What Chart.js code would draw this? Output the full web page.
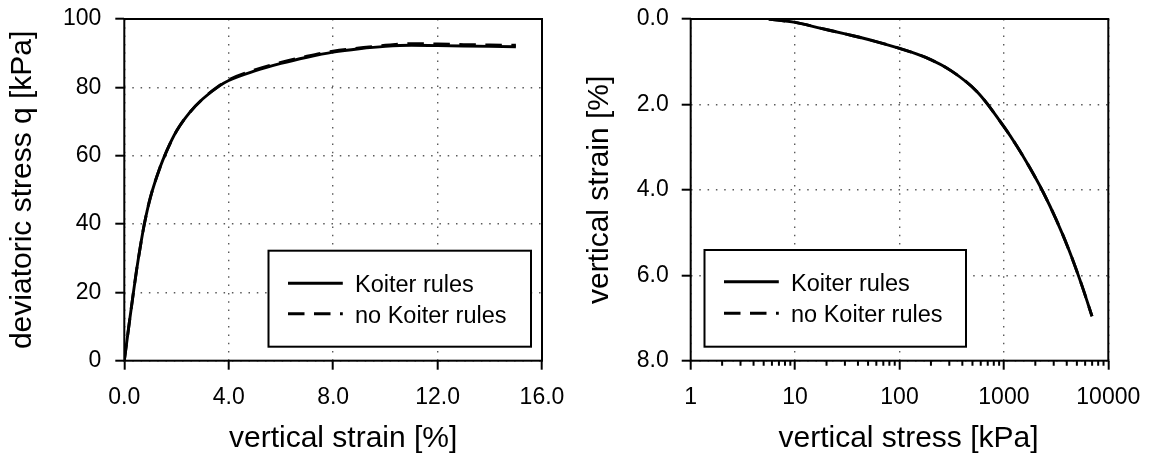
<!DOCTYPE html>
<html>
<head>
<meta charset="utf-8">
<script src="https://cdn.jsdelivr.net/npm/chart.js@4.4.1/dist/chart.umd.min.js"></script>
<style>
  html, body { margin: 0; padding: 0; background: #fff; }
  #wrap { position: relative; width: 1151px; height: 454px; }
  canvas { position: absolute; top: 0; }
  #triaxChart { left: 0; }
  #oedoChart { left: 575px; }
</style>
</head>
<body>
<div id="wrap">
  <canvas id="triaxChart" width="575" height="454"></canvas>
  <canvas id="oedoChart" width="576" height="454"></canvas>
</div>
<script>
// triaxial test: deviatoric stress q [kPa] against vertical strain [%]
const triaxStrain = [0, 0.2, 0.35, 0.47, 0.61, 0.76, 1.0, 1.37, 1.63, 2.0, 2.5, 3.0, 3.66, 4.0,
                     5.0, 6.0, 7.0, 8.0, 9.0, 10.0, 11.0, 12.0, 13.0, 14.0, 15.0];
const qKoiter = [0, 11.6, 20.0, 26.5, 33.2, 39.7, 47.8, 56.6, 61.5, 67.2, 72.6, 76.6, 80.5, 82.0,
                 84.8, 87.0, 88.8, 90.3, 91.3, 92.0, 92.3, 92.2, 92.1, 92.0, 91.9];
const qNoKoiter = [0, 11.6, 20.0, 26.5, 33.2, 39.7, 47.8, 56.6, 61.5, 67.2, 72.6, 76.6, 80.6, 82.2,
                   85.1, 87.3, 89.1, 90.6, 91.5, 92.3, 92.8, 92.7, 92.5, 92.4, 92.3];

// oedometer test: vertical strain [%] against vertical stress [kPa]
const oedoStress = [5.6, 10, 17.8, 31.6, 56.2, 100, 178, 316, 562, 1000,
                    1334, 1778, 2371, 3162, 4217, 5623, 6982];
const epsKoiter = [0, 0.08, 0.22, 0.36, 0.51, 0.69, 0.90, 1.22, 1.72, 2.52,
                   2.98, 3.49, 4.05, 4.69, 5.42, 6.26, 6.96];
const epsNoKoiter = [0, 0.08, 0.22, 0.36, 0.51, 0.69, 0.90, 1.22, 1.72, 2.52,
                     2.98, 3.49, 4.05, 4.69, 5.42, 6.26, 6.96];

const seriesLabels = ['Koiter rules', 'no Koiter rules'];

// axis ticks
const strainTicks = [0, 4, 8, 12, 16];
const qTicks = [0, 20, 40, 60, 80, 100];
const epsTicks = [0, 2, 4, 6, 8];
const stressTicks = [1, 10, 100, 1000, 10000];
const minorSteps = [2, 3, 4, 5, 6, 7, 8, 9];

const FONT = "'Liberation Sans', Arial, Helvetica, sans-serif";
Chart.defaults.font.family = FONT;
Chart.defaults.color = '#000';

const tickFont = { size: 23 };
const titleFont = { size: 30, lineHeight: 1 };
const gridColor = '#5a5a5a';
const dashed = [16.5, 9.5];

const points = (xs, ys) => xs.map((x, i) => ({ x: x, y: ys[i] }));

const lineStyle = {
  borderColor: '#000',
  borderWidth: 2.9,
  pointRadius: 0,
  fill: false,
  cubicInterpolationMode: 'monotone'
};

// move the axis title sideways a little
function nudgeTitle(scale, dx) {
  if (scale._nudged) return;
  const draw = scale.drawTitle;
  scale.drawTitle = function () {
    this.ctx.save();
    this.ctx.translate(dx, 0);
    draw.call(this);
    this.ctx.restore();
  };
  scale._nudged = true;
}

// framed legend inside the plot, plot border and minor log ticks
const boxedLegend = {
  id: 'boxedLegend',
  afterDatasetsDraw(chart, args, opts) {
    const { ctx, chartArea: a } = chart;
    const x0 = opts.left !== undefined ? a.left + opts.left : a.right - opts.right - opts.width;
    const y0 = a.bottom - opts.bottom - opts.height;
    ctx.save();
    ctx.fillStyle = '#fff';
    ctx.fillRect(x0, y0, opts.width, opts.height);
    ctx.lineWidth = 2;
    ctx.strokeStyle = '#000';
    ctx.strokeRect(x0, y0, opts.width, opts.height);
    ctx.font = '23.5px ' + FONT;
    ctx.textBaseline = 'alphabetic';
    chart.data.datasets.forEach((ds, i) => {
      const y = y0 + opts.rows[i];
      ctx.setLineDash(ds.borderDash || []);
      ctx.lineWidth = ds.borderWidth;
      ctx.beginPath();
      ctx.moveTo(x0 + 19.5, y);
      ctx.lineTo(x0 + 74.3, y);
      ctx.stroke();
      ctx.setLineDash([]);
      ctx.fillStyle = '#000';
      ctx.fillText(ds.label, x0 + 86.5, y + 9);
    });
    ctx.restore();
  },
  afterDraw(chart) {
    const { ctx, chartArea: a } = chart;
    ctx.save();
    ctx.strokeStyle = '#000';
    ctx.lineWidth = 2;
    const xs = chart.scales.x;
    if (xs.type === 'logarithmic') {
      ctx.beginPath();
      xs.ticks.forEach(t => {
        if (t.major) return;
        const px = xs.getPixelForValue(t.value);
        ctx.moveTo(px, a.bottom);
        ctx.lineTo(px, a.bottom + 5);
      });
      ctx.stroke();
    }
    ctx.strokeRect(a.left, a.top, a.right - a.left, a.bottom - a.top);
    ctx.restore();
  }
};

function axisBase(titleText, titlePadding) {
  return {
    ticks: { font: tickFont, color: '#000', padding: 14, autoSkip: false, maxRotation: 0 },
    grid: { color: gridColor, lineWidth: 1.4, tickLength: 9, tickColor: '#000', tickWidth: 2 },
    border: { display: false, dash: [1.5, 6.8] },
    title: { display: true, text: titleText, font: titleFont, color: '#000', padding: titlePadding }
  };
}

// fixed axis sizes so the plot area sits where it should
const fixX = h => s => { s.height = h; s.paddingLeft = 0; s.paddingRight = 0; };
const fixY = w => s => { s.width = w; s.paddingTop = 0; s.paddingBottom = 0; };

// left: triaxial compression
const triaxX = axisBase('vertical strain [%]', { top: 0, bottom: 0.5 });
Object.assign(triaxX, {
  type: 'linear', min: 0, max: 16,
  afterBuildTicks: s => { s.ticks = strainTicks.map(v => ({ value: v })); },
  afterFit: fixX(93.3),
  afterUpdate: s => nudgeTitle(s, 10)
});
triaxX.ticks.callback = v => v.toFixed(1);

const triaxY = axisBase('deviatoric stress q [kPa]', { top: 8, bottom: 0 });
Object.assign(triaxY, {
  type: 'linear', min: 0, max: 100,
  afterBuildTicks: s => { s.ticks = qTicks.map(v => ({ value: v })); },
  afterFit: fixY(124.3)
});
triaxY.ticks.callback = v => String(v);

new Chart(document.getElementById('triaxChart'), {
  type: 'line',
  data: {
    datasets: [
      Object.assign({ label: seriesLabels[0], data: points(triaxStrain, qKoiter), order: 1 }, lineStyle),
      Object.assign({ label: seriesLabels[1], data: points(triaxStrain, qNoKoiter), order: 0, borderDash: dashed }, lineStyle)
    ]
  },
  options: {
    responsive: false,
    animation: false,
    devicePixelRatio: 1,
    layout: { padding: { top: 19, right: 33, left: 0, bottom: 0 } },
    scales: { x: triaxX, y: triaxY },
    plugins: {
      legend: { display: false },
      tooltip: { enabled: false },
      boxedLegend: { right: 11, bottom: 14, width: 262.5, height: 96, rows: [32.5, 63] }
    }
  },
  plugins: [boxedLegend]
});

// right: oedometer compression, log stress axis
const oedoX = axisBase('vertical stress [kPa]', { top: 0, bottom: 0.5 });
Object.assign(oedoX, {
  type: 'logarithmic', min: 1, max: 10000,
  afterBuildTicks: s => {
    const list = [];
    stressTicks.forEach((d, i) => {
      list.push({ value: d, major: true });
      if (i < stressTicks.length - 1) minorSteps.forEach(m => list.push({ value: d * m, major: false }));
    });
    s.ticks = list;
  },
  afterFit: fixX(93.3),
  afterUpdate: s => nudgeTitle(s, 9)
});
oedoX.ticks.callback = v => (stressTicks.includes(v) ? String(v) : '');
oedoX.grid.color = c => (c.tick && c.tick.major ? gridColor : 'rgba(0,0,0,0)');
oedoX.grid.tickColor = c => (c.tick && c.tick.major ? '#000' : 'rgba(0,0,0,0)');

const oedoY = axisBase('vertical strain [%]', { top: 10, bottom: 0 });
Object.assign(oedoY, {
  type: 'linear', min: 0, max: 8, reverse: true,
  afterBuildTicks: s => { s.ticks = epsTicks.map(v => ({ value: v })); },
  afterFit: fixY(115.7)
});
oedoY.ticks.callback = v => v.toFixed(1);
oedoY.ticks.padding = 13;

new Chart(document.getElementById('oedoChart'), {
  type: 'line',
  data: {
    datasets: [
      Object.assign({ label: seriesLabels[0], data: points(oedoStress, epsKoiter), order: 1 }, lineStyle),
      Object.assign({ label: seriesLabels[1], data: points(oedoStress, epsNoKoiter), order: 0, borderDash: dashed }, lineStyle)
    ]
  },
  options: {
    responsive: false,
    animation: false,
    devicePixelRatio: 1,
    layout: { padding: { top: 19, right: 42.7, left: 0, bottom: 0 } },
    scales: { x: oedoX, y: oedoY },
    plugins: {
      legend: { display: false },
      tooltip: { enabled: false },
      boxedLegend: { left: 13.8, bottom: 14, width: 261.5, height: 96.7, rows: [31.7, 63.3] }
    }
  },
  plugins: [boxedLegend]
});
</script>
</body>
</html>
